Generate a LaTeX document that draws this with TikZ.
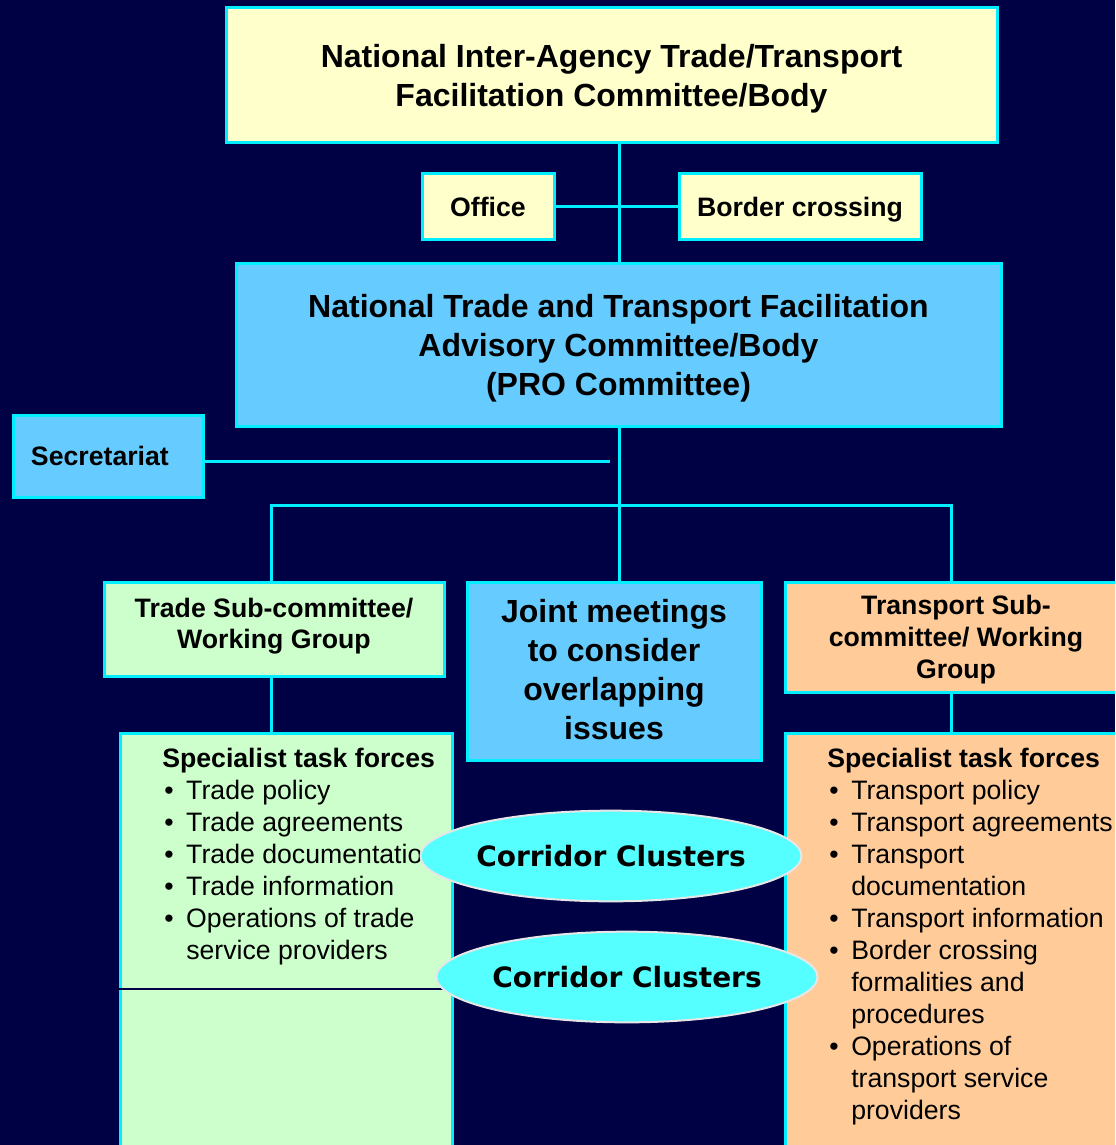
\documentclass[tikz,border=0pt]{standalone}
\usepackage{fontspec}
\setmainfont{Liberation Sans}
\newfontfamily\ccfont{DejaVu Sans}
\usetikzlibrary{shapes.geometric}
\definecolor{bg}{RGB}{0,0,68}
\definecolor{ln}{RGB}{0,238,255}
\definecolor{yel}{HTML}{FFFFCC}
\definecolor{blu}{HTML}{66CCFF}
\definecolor{grn}{HTML}{CCFFCC}
\definecolor{org}{HTML}{FFCC99}
\definecolor{ell}{HTML}{55FFFF}
\definecolor{ellb}{RGB}{230,230,230}
\newcommand\tfbul{\makebox[18pt][l]{\hspace{1.5pt}\textbullet}}
\newcommand\tfind{\hspace*{18pt}}
\tikzset{
  box/.style={draw=ln, line width=2.25pt, rectangle, inner sep=0pt, align=center, text=black},
  conn/.style={draw=ln, line width=2.25pt},
  bigfont/.style={font=\bfseries\fontsize{24pt}{29.25pt}\selectfont},
  jointfont/.style={font=\bfseries\fontsize{24pt}{29.25pt}\selectfont},
  medfont/.style={font=\bfseries\fontsize{20pt}{23.5pt}\selectfont},
  listfont/.style={font=\fontsize{20pt}{24pt}\selectfont},
  cluster/.style={ellipse, draw=ellb, line width=1.5pt, fill=ell, inner sep=0pt,
    minimum width=284pt, minimum height=68pt, font=\ccfont\bfseries\fontsize{21pt}{24pt}\selectfont},
  listnode/.style={anchor=base west, inner sep=0pt, align=left, text=black, listfont}
}
\begin{document}
\begin{tikzpicture}[x=0.75pt,y=-0.75pt]
\useasboundingbox (0,0) rectangle (1115,1145);
\fill[bg] (0,0) rectangle (1115,1145);
\begin{scope}
\clip (0,0) rectangle (1115,1145);
% boxes
\node[box, fill=yel, minimum width=578.25pt, minimum height=101.25pt, bigfont, text depth=-2.8pt] (top) at (611.5,75.5)
  {National Inter-Agency Trade/Transport\\Facilitation Committee/Body};
\node[box, fill=yel, minimum width=99pt, minimum height=48.75pt, medfont] (office) at (488,206.5) {Office};
\node[box, fill=yel, minimum width=181.5pt, minimum height=48.75pt, medfont, text depth=0pt] (border) at (800,206.5) {Border crossing};
\node[box, fill=blu, minimum width=573.75pt, minimum height=122.25pt, bigfont, text depth=-1.3pt] (adv) at (618.5,344.5)
  {National Trade and Transport Facilitation\\Advisory Committee/Body\\(PRO Committee)};
\node[box, fill=blu, minimum width=142.5pt, minimum height=61.5pt, medfont, align=left,
  inner xsep=13.5pt, text width=115.5pt] (sec) at (108,456) {Secretariat};
\node[box, fill=grn, minimum width=255pt, minimum height=70.5pt, medfont,
  font=\bfseries\fontsize{20pt}{23.25pt}\selectfont, text depth=8.7pt] (trade) at (274,629)
  {Trade Sub-committee/\\Working Group};
\node[box, fill=blu, minimum width=220.5pt, minimum height=133.5pt, jointfont, text depth=3pt] (joint) at (614,671)
  {Joint meetings\\to consider\\overlapping\\issues};
\node[box, fill=org, minimum width=256.5pt, minimum height=82.5pt,
  font=\bfseries\fontsize{20pt}{24pt}\selectfont, text depth=-4pt] (transport) at (956,637)
  {Transport Sub-\\committee/ Working\\Group};
\node[box, fill=grn, minimum width=249pt, minimum height=320.25pt] (tradetask) at (286,946.5) {};
\node[box, fill=org, minimum width=256.5pt, minimum height=320.25pt] (transtask) at (956,946.5) {};
% thin divider in trade task box
\draw[bg, line width=0.9pt] (tradetask.west |- 0,989) -- (tradetask.east |- 0,989);
% lists (anchored at the baseline of their last line)
\node[listnode] (tradelist) at (162,959)
  {\textbf{Specialist task forces}\\
   \tfbul Trade policy\\
   \tfbul Trade agreements\\
   \tfbul Trade documentation\\
   \tfbul Trade information\\
   \tfbul Operations of trade\\
   \tfind service providers};
\node[listnode] (translist) at (827,1119)
  {\textbf{Specialist task forces}\\
   \tfbul Transport policy\\
   \tfbul Transport agreements\\
   \tfbul Transport\\
   \tfind documentation\\
   \tfbul Transport information\\
   \tfbul Border crossing\\
   \tfind formalities and\\
   \tfind procedures\\
   \tfbul Operations of\\
   \tfind transport service\\
   \tfind providers};
% connectors
\coordinate (secend) at (610,461);
\coordinate (busL) at (271,505);
\coordinate (busR) at (951,505);
\draw[conn] (adv.north -| 619,0) -- (top.south -| 619,0);
\draw[conn] (office.east) -- (border.west);
\draw[conn] (sec.east |- secend) -- (secend);
\draw[conn] (adv.south -| 619,0) -- (joint.north -| 619,0);
\draw[conn] (trade.north -| busL) -- (busL) -- (busR) -- (transport.north -| busR);
\draw[conn] (trade.south -| busL) -- (tradetask.north -| busL);
\draw[conn] (transport.south -| busR) -- (transtask.north -| busR);
% corridor clusters
\node[cluster] (cc1) at (611,856) {Corridor Clusters};
\node[cluster] (cc2) at (627,977) {Corridor Clusters};
\end{scope}
\end{tikzpicture}
\end{document}
